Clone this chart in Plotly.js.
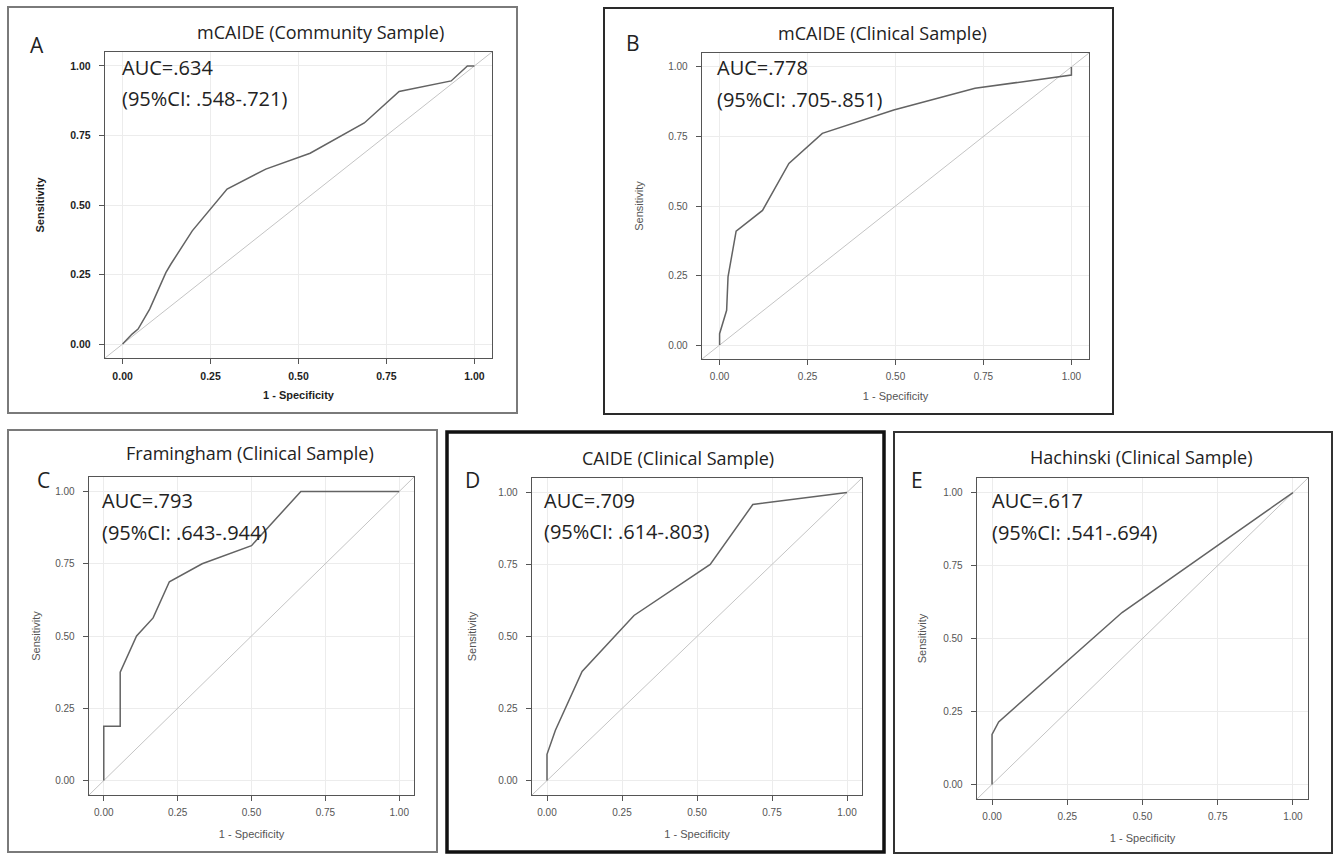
<!DOCTYPE html>
<html>
<head>
<meta charset="utf-8">
<script src="https://cdn.plot.ly/plotly-3.0.1.min.js"></script>
<style>html,body{margin:0;padding:0;background:#fff;}#chart{width:1339px;height:855px;}</style>
</head>
<body>
<div id="chart"></div>
<script>
// ---- Data ----
const panelLetters = ["A", "B", "C", "D", "E"];
const panelTitles = ["mCAIDE (Community Sample)", "mCAIDE (Clinical Sample)", "Framingham (Clinical Sample)", "CAIDE (Clinical Sample)", "Hachinski (Clinical Sample)"];
const aucLines = ["AUC=.634", "AUC=.778", "AUC=.793", "AUC=.709", "AUC=.617"];
const ciLines = ["(95%CI: .548-.721)", "(95%CI: .705-.851)", "(95%CI: .643-.944)", "(95%CI: .614-.803)", "(95%CI: .541-.694)"];

const aFpr = [0, 0.027, 0.044, 0.077, 0.123, 0.137, 0.198, 0.297, 0.407, 0.533, 0.687, 0.786, 0.934, 0.980, 1.0];
const aSens = [0, 0.036, 0.054, 0.126, 0.257, 0.287, 0.407, 0.557, 0.629, 0.686, 0.795, 0.908, 0.946, 1.0, 1.0];
const bFpr = [0, 0, 0.020, 0.024, 0.047, 0.122, 0.197, 0.292, 0.495, 0.726, 1.0, 1.0];
const bSens = [0, 0.041, 0.125, 0.245, 0.410, 0.484, 0.653, 0.761, 0.845, 0.923, 0.971, 1.0];
const cFpr = [0, 0, 0.0556, 0.0556, 0.111, 0.167, 0.222, 0.333, 0.5, 0.667, 1.0];
const cSens = [0, 0.1875, 0.1875, 0.375, 0.5, 0.5625, 0.6875, 0.75, 0.8125, 1.0, 1.0];
const dFpr = [0, 0, 0.028, 0.117, 0.290, 0.544, 0.686, 0.975, 1.0];
const dSens = [0, 0.091, 0.175, 0.379, 0.573, 0.750, 0.958, 0.998, 1.0];
const eFpr = [0, 0, 0.022, 0.432, 1.0];
const eSens = [0, 0.171, 0.214, 0.589, 1.0];
const refLine = [-0.05, 1.05];
const tickVals = [0, 0.25, 0.5, 0.75, 1];
const tickText = ["0.00", "0.25", "0.50", "0.75", "1.00"];

const curvesX = [aFpr, bFpr, cFpr, dFpr, eFpr];
const curvesY = [aSens, bSens, cSens, dSens, eSens];

// ---- Layout geometry (pixels) ----
const W = 1339, H = 855;
const px = v => v / W;
const py = v => 1 - v / H;
const frames = [[105, 492, 52, 358], [702, 1089, 53, 359], [89, 414, 477, 795], [532, 862, 478, 795], [977, 1308, 478, 799]];
const boxes = [[8, 517, 7, 413, "#7a7a7a", 2], [604, 1113, 8, 414, "#2a2a2a", 2], [8, 437, 430, 852, "#7a7a7a", 2], [447, 884, 432, 852, "#111", 3.5], [894, 1332, 432, 853, "#333", 2]];
const titlePos = [[320, 32], [882, 33], [250, 453], [678, 458], [1141, 457]];
const letterPos = [[37, 45], [633, 43], [43, 480], [472, 480], [917, 480]];
const aucPos = [[120, 68, 98], [715, 68, 99], [100, 500, 532], [542, 500, 531], [990, 500, 532]];
const boldTicks = [true, false, false, false, false];
const yStandoff = [23, 22, 12, 19, 14];
const xStandoff = [10, 11, 13, 13, 13];

const traces = [];
const layout = {
  width: W, height: H,
  margin: {l: 0, r: 0, t: 0, b: 0},
  paper_bgcolor: "#fff", plot_bgcolor: "#fff",
  showlegend: false,
  shapes: [], annotations: []
};

for (let i = 0; i < 5; i++) {
  const n = i === 0 ? "" : String(i + 1);
  const xa = "x" + n, ya = "y" + n;
  traces.push({x: refLine, y: refLine, xaxis: xa, yaxis: ya, mode: "lines", line: {color: "#c4c4c4", width: 1}, hoverinfo: "skip"});
  traces.push({x: curvesX[i], y: curvesY[i], xaxis: xa, yaxis: ya, mode: "lines", line: {color: "#636363", width: 1.5}});
  const f = frames[i];
  const bold = boldTicks[i];
  const tickFont = {family: "Liberation Sans, Arial, sans-serif", size: bold ? 10.5 : 10, color: bold ? "#1e1e1e" : "#555", weight: bold ? "bold" : "normal"};
  const titleFont = {family: "Liberation Sans, Arial, sans-serif", size: 11, color: bold ? "#1e1e1e" : "#555"};
  const common = {
    range: [-0.05, 1.05], tickvals: tickVals, ticktext: tickText,
    showgrid: true, gridcolor: "#ececec", gridwidth: 1, zeroline: false,
    showline: true, mirror: true, linecolor: "#555", linewidth: 1.3,
    ticks: "outside", ticklen: 5, tickcolor: "#555", tickfont: tickFont, fixedrange: true
  };
  layout["xaxis" + n] = Object.assign({}, common, {
    domain: [px(f[0]), px(f[1])], anchor: ya, ticklabelstandoff: 3,
    title: {text: bold ? "<b>1 - Specificity</b>" : "1 - Specificity", font: titleFont, standoff: xStandoff[i]}
  });
  layout["yaxis" + n] = Object.assign({}, common, {
    domain: [py(f[3]), py(f[2])], anchor: xa, ticklabelstandoff: 6,
    title: {text: bold ? "<b>Sensitivity</b>" : "Sensitivity", font: titleFont, standoff: yStandoff[i]}
  });
  const b = boxes[i];
  layout.shapes.push({type: "rect", xref: "paper", yref: "paper", x0: px(b[0]), x1: px(b[1]), y0: py(b[3]), y1: py(b[2]), line: {color: b[4], width: b[5]}});
  const txtFont = {family: "Open Sans, Noto Sans, sans-serif", color: "#222"};
  layout.annotations.push({xref: "paper", yref: "paper", x: px(titlePos[i][0]), y: py(titlePos[i][1]), text: panelTitles[i], showarrow: false, xanchor: "center", yanchor: "middle", font: Object.assign({size: 18}, txtFont)});
  layout.annotations.push({xref: "paper", yref: "paper", x: px(letterPos[i][0]), y: py(letterPos[i][1]), text: panelLetters[i], showarrow: false, xanchor: "center", yanchor: "middle", font: Object.assign({size: 21}, txtFont)});
  layout.annotations.push({xref: "paper", yref: "paper", x: px(aucPos[i][0]), y: py(aucPos[i][1]), text: aucLines[i], showarrow: false, xanchor: "left", yanchor: "middle", font: Object.assign({size: 20}, txtFont)});
  layout.annotations.push({xref: "paper", yref: "paper", x: px(aucPos[i][0]), y: py(aucPos[i][2]), text: ciLines[i], showarrow: false, xanchor: "left", yanchor: "middle", font: Object.assign({size: 20}, txtFont)});
}

Plotly.newPlot("chart", traces, layout, {displayModeBar: false, staticPlot: true});
</script>
</body>
</html>
